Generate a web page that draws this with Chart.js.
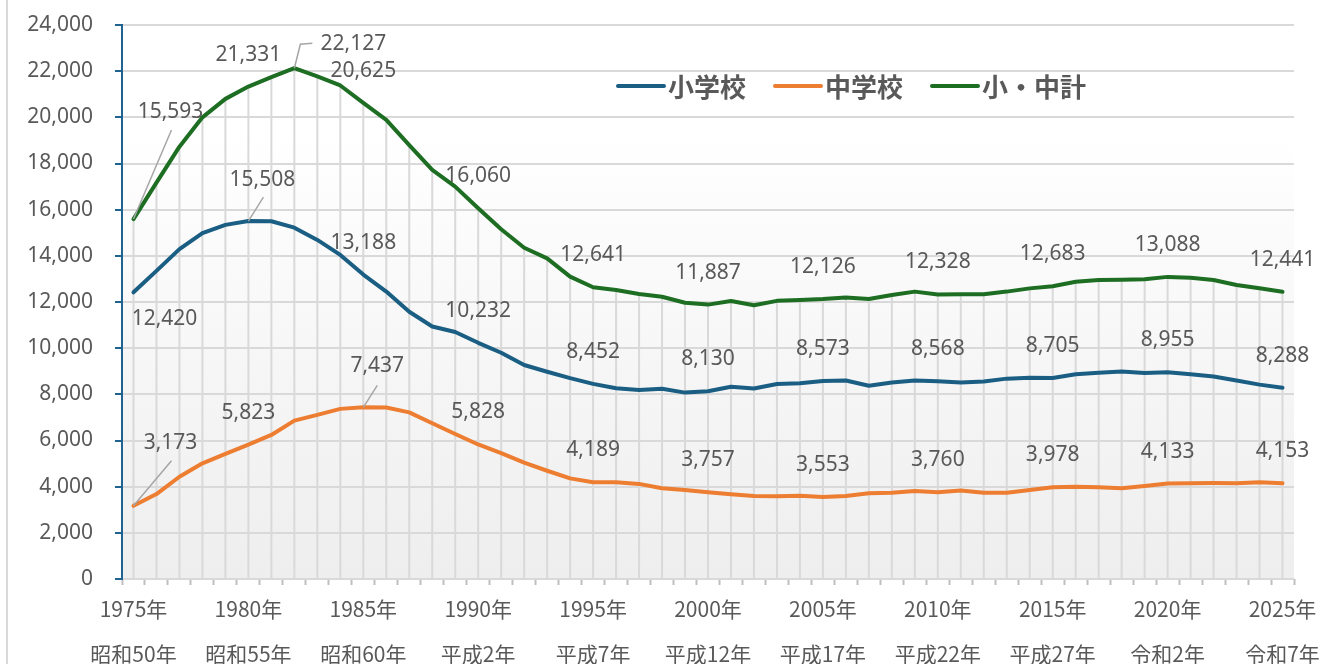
<!DOCTYPE html>
<html lang="ja">
<head>
<meta charset="UTF-8">
<title>児童生徒数の推移</title>
<script src="https://cdn.jsdelivr.net/npm/chart.js"></script>
<style>
  html, body { margin: 0; padding: 0; background: #fff; overflow: hidden; }
  #wrap { position: relative; width: 1330px; height: 664px; }
  #edge { position: absolute; left: 6px; top: 0; width: 2px; height: 664px; background: #d9d9d9; }
  #chart { position: absolute; left: 0; top: 0; }
</style>
</head>
<body>
<div id="wrap">
  <div id="edge"></div>
  <canvas id="chart" width="1330" height="664"></canvas>
</div>

<script>
// 年 (1975〜2025)
const years = [
  1975, 1976, 1977, 1978, 1979, 1980, 1981, 1982, 1983, 1984,
  1985, 1986, 1987, 1988, 1989, 1990, 1991, 1992, 1993, 1994,
  1995, 1996, 1997, 1998, 1999, 2000, 2001, 2002, 2003, 2004,
  2005, 2006, 2007, 2008, 2009, 2010, 2011, 2012, 2013, 2014,
  2015, 2016, 2017, 2018, 2019, 2020, 2021, 2022, 2023, 2024, 2025
];

// 小学校
const elementary = [
  12420, 13350, 14290, 14980, 15340, 15508, 15500, 15220, 14690, 14040,
  13188, 12450, 11580, 10940, 10700, 10232, 9800, 9270, 8980, 8700,
  8452, 8260, 8190, 8245, 8075, 8130, 8330, 8250, 8450, 8480,
  8573, 8600, 8370, 8510, 8600, 8568, 8510, 8560, 8680, 8720,
  8705, 8870, 8940, 8990, 8920, 8955, 8870, 8770, 8600, 8420, 8288
];

// 中学校
const junior = [
  3173, 3680, 4430, 5010, 5420, 5823, 6240, 6860, 7110, 7370,
  7437, 7430, 7220, 6750, 6280, 5828, 5450, 5040, 4690, 4360,
  4189, 4190, 4120, 3930, 3860, 3757, 3670, 3600, 3590, 3610,
  3553, 3600, 3710, 3740, 3810, 3760, 3830, 3740, 3740, 3860,
  3978, 4000, 3975, 3930, 4030, 4133, 4150, 4160, 4150, 4190, 4153
];

// 小・中計
const total = [
  15593, 17170, 18730, 20000, 20800, 21331, 21740, 22127, 21770, 21380,
  20625, 19890, 18800, 17720, 17000, 16060, 15150, 14350, 13890, 13100,
  12641, 12520, 12350, 12230, 11970, 11887, 12040, 11860, 12050, 12090,
  12126, 12200, 12130, 12300, 12450, 12328, 12340, 12340, 12450, 12590,
  12683, 12880, 12950, 12960, 12985, 13088, 13050, 12950, 12740, 12600, 12441
];

// 目盛ラベル (5年ごと、西暦と和暦)
const tickYears = [1975, 1980, 1985, 1990, 1995, 2000, 2005, 2010, 2015, 2020, 2025];
const yearLabels = ['1975年', '1980年', '1985年', '1990年', '1995年', '2000年', '2005年', '2010年', '2015年', '2020年', '2025年'];
const eraLabels = ['昭和50年', '昭和55年', '昭和60年', '平成2年', '平成7年', '平成12年', '平成17年', '平成22年', '平成27年', '令和2年', '令和7年'];

// データラベルを表示する年
const elementaryLabelYears = [1975, 1980, 1985, 1990, 1995, 2000, 2005, 2010, 2015, 2020, 2025];
const juniorLabelYears = [1975, 1980, 1985, 1990, 1995, 2000, 2005, 2010, 2015, 2020, 2025];
const totalLabelYears = [1975, 1980, 1982, 1985, 1990, 1995, 2000, 2005, 2010, 2015, 2020, 2025];

const textColor = '#595959';
const gridColor = '#d9d9d9';
const axisBlue = '#1f6391';

// ラベル位置の個別調整 (点からのずれ、引出線)
const labelTweaks = [
  { 1975: { dx: 31, dy: 27 }, 1980: { dx: 14, dy: -41, leader: [[15, -24]] } },
  { 1975: { dx: 37, dy: -63, leader: [[38, -45]] }, 1985: { dx: 14, dy: -41, leader: [[14, -22]] } },
  { 1975: { dx: 37, dy: -107, leader: [[38, -89]] }, 1982: { dx: 59, dy: -24, leader: [[6, -24], [18, -25]] } }
];
const labelYearSets = [elementaryLabelYears, juniorLabelYears, totalLabelYears];

// 描画領域の背景グラデーション
const bgPlugin = {
  id: 'plotBg',
  beforeDraw(chart) {
    const { ctx, chartArea: a } = chart;
    const g = ctx.createLinearGradient(0, a.top, 0, a.bottom);
    g.addColorStop(0, '#ffffff');
    g.addColorStop(0.2, '#ffffff');
    g.addColorStop(1, '#eeeeee');
    ctx.save();
    ctx.fillStyle = g;
    ctx.fillRect(a.left, a.top, a.right - a.left, a.bottom - a.top);
    ctx.restore();
  }
};

// 降下線 (一番上の系列から横軸まで)
const dropLinePlugin = {
  id: 'dropLines',
  beforeDatasetsDraw(chart) {
    const { ctx, chartArea, scales } = chart;
    ctx.save();
    ctx.strokeStyle = gridColor;
    ctx.lineWidth = 2;
    ctx.beginPath();
    years.forEach((yr, i) => {
      const top = Math.max(...chart.data.datasets.map(d => d.data[i]));
      const px = scales.x.getPixelForValue(i);
      ctx.moveTo(px, scales.y.getPixelForValue(top));
      ctx.lineTo(px, chartArea.bottom);
    });
    ctx.stroke();
    ctx.restore();
  }
};

// データラベル
const valueLabelPlugin = {
  id: 'valueLabels',
  afterDatasetsDraw(chart) {
    const ctx = chart.ctx;
    ctx.save();
    ctx.font = "21px 'Noto Sans'";
    ctx.fillStyle = textColor;
    ctx.textAlign = 'center';
    ctx.textBaseline = 'middle';
    chart.data.datasets.forEach((ds, di) => {
      const meta = chart.getDatasetMeta(di);
      labelYearSets[di].forEach(yr => {
        const i = years.indexOf(yr);
        const pt = meta.data[i];
        const tw = labelTweaks[di][yr] || { dx: 0, dy: -32 };
        if (tw.leader) {
          ctx.strokeStyle = '#a6a6a6';
          ctx.lineWidth = 1.5;
          ctx.beginPath();
          ctx.moveTo(pt.x, pt.y);
          tw.leader.forEach(p => ctx.lineTo(pt.x + p[0], pt.y + p[1]));
          ctx.stroke();
        }
        ctx.fillText(ds.data[i].toLocaleString('en-US'), pt.x + tw.dx, pt.y + tw.dy);
      });
    });
    ctx.restore();
  }
};

// 凡例 (描画領域の中)
const legendPlugin = {
  id: 'insideLegend',
  afterDraw(chart) {
    const { ctx, chartArea } = chart;
    ctx.save();
    ctx.font = "bold 26px 'Noto Sans CJK JP'";
    ctx.textBaseline = 'middle';
    ctx.textAlign = 'left';
    let x = chartArea.left + 496;
    const cy = chartArea.top + 61;
    chart.data.datasets.forEach(ds => {
      ctx.strokeStyle = ds.borderColor;
      ctx.lineWidth = 4;
      ctx.lineCap = 'round';
      ctx.beginPath();
      ctx.moveTo(x, cy);
      ctx.lineTo(x + 46, cy);
      ctx.stroke();
      ctx.fillStyle = textColor;
      ctx.fillText(ds.label, x + 50, cy + 1);
      x += 50 + ctx.measureText(ds.label).width + 29;
    });
    ctx.restore();
  }
};

new Chart(document.getElementById('chart'), {
  type: 'line',
  data: {
    labels: years,
    datasets: [
      { label: '小学校', data: elementary, borderColor: '#1b5e83' },
      { label: '中学校', data: junior, borderColor: '#ed7d31' },
      { label: '小・中計', data: total, borderColor: '#1d6e22' }
    ]
  },
  options: {
    responsive: false,
    animation: false,
    layout: { padding: { top: 25, right: 36, left: 0, bottom: 0 } },
    elements: {
      line: { borderWidth: 4, tension: 0, borderCapStyle: 'round', borderJoinStyle: 'round', fill: false },
      point: { radius: 0, hoverRadius: 0 }
    },
    plugins: {
      legend: { display: false },
      tooltip: { enabled: false }
    },
    scales: {
      x: {
        type: 'category',
        offset: true,
        weight: 1,
        grid: { display: false, drawTicks: false },
        border: { display: false },
        ticks: {
          autoSkip: false,
          maxRotation: 0,
          padding: 2,
          color: textColor,
          font: { family: "'Noto Sans CJK JP'", size: 21, lineHeight: 2.14 },
          callback: (v, i) => {
            const k = tickYears.indexOf(years[i]);
            return k < 0 ? '' : [yearLabels[k], eraLabels[k]];
          }
        },
        afterFit: s => { s.height = 79; }
      },
      x2: {
        type: 'category',
        position: 'bottom',
        labels: years,
        offset: true,
        weight: 0,
        grid: { offset: true, drawOnChartArea: false, drawTicks: true, tickLength: 6, tickColor: '#bfbfbf', tickWidth: 2 },
        ticks: { display: false },
        border: { display: false },
        afterFit: s => { s.height = 6; }
      },
      y: {
        min: 0,
        max: 24000,
        ticks: {
          stepSize: 2000,
          padding: 22,
          color: textColor,
          font: { family: "'Noto Sans'", size: 21 },
          callback: v => v.toLocaleString('en-US')
        },
        grid: { color: gridColor, lineWidth: 2, tickColor: axisBlue, tickLength: 7, tickWidth: 2 },
        border: { display: true, color: axisBlue, width: 2 },
        afterFit: s => { s.width = 122; s.paddingTop = 13; s.paddingBottom = 13; }
      }
    }
  },
  plugins: [bgPlugin, dropLinePlugin, valueLabelPlugin, legendPlugin]
});
</script>
</body>
</html>
